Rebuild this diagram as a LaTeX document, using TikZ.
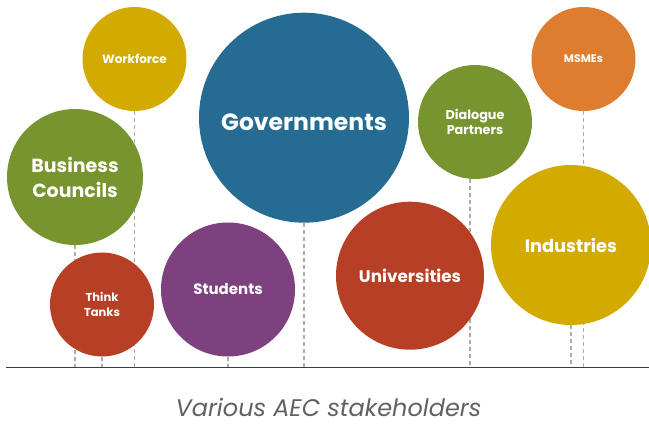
\documentclass[tikz,border=0pt]{standalone}
\usepackage{fontspec}
\setmainfont{Poppins}
\usetikzlibrary{backgrounds}
\definecolor{cyellow}{HTML}{D3AA00}
\definecolor{cgreen}{HTML}{78942E}
\definecolor{cred}{HTML}{B73F25}
\definecolor{cpurple}{HTML}{7E417F}
\definecolor{cblue}{HTML}{266C92}
\definecolor{corange}{HTML}{DE7C2F}
\definecolor{cnavy}{HTML}{2B3A7A}
\definecolor{dashgray}{HTML}{ABABAB}
\definecolor{captiongray}{HTML}{606166}
\begin{document}
\begin{tikzpicture}[x=1pt,y=-1pt,
  bubble/.style={circle, inner sep=0pt, text=white, align=center},
  guide/.style={draw=dashgray, line width=1.4pt, dash pattern=on 4pt off 3pt}]
\useasboundingbox (0,0) rectangle (649,425);
\node[bubble, fill=cyellow, minimum size=104pt, font=\bfseries\fontsize{12}{14}\selectfont] (workforce) at (134.5,59) {Workforce};
\node[bubble, fill=cgreen, minimum size=136pt, font=\bfseries\fontsize{19}{25}\selectfont] (business) at (75,177) {Business\\Councils};
\node[bubble, fill=cred, minimum size=104pt, font=\bfseries\fontsize{11.5}{15}\selectfont] (think) at (102,304.5) {Think\\Tanks};
\node[bubble, fill=cpurple, minimum size=134pt, font=\bfseries\fontsize{15}{18}\selectfont] (students) at (228,289.5) {Students};
\node[bubble, fill=cblue, minimum size=210pt, font=\bfseries\fontsize{23.5}{28}\selectfont] (gov) at (304,117.7) {\raisebox{-4.5pt}[\height][\depth]{Governments}};
\node[bubble, fill=cred, minimum size=148pt, font=\bfseries\fontsize{16.8}{20}\selectfont] (univ) at (410,275.7) {Universities};
\node[bubble, fill=cgreen, minimum size=114pt, font=\bfseries\fontsize{12.8}{15.5}\selectfont] (dialogue) at (475,122) {Dialogue\\Partners};
\node[bubble, fill=cyellow, minimum size=160pt, font=\bfseries\fontsize{17.8}{21}\selectfont] (industries) at (571,245) {Industries};
\node[bubble, fill=corange, minimum size=104pt, font=\bfseries\fontsize{11}{13}\selectfont] (msmes) at (583.5,59) {MSMEs};
\coordinate (bl) at (6,367.5);
\coordinate (br) at (649,367.5);
\begin{pgfonlayer}{background}
\foreach \n in {workforce,business,think,students,gov,industries,msmes}
  \draw[guide] (\n.south) -- (\n.south |- bl);
\draw[guide] ([xshift=-5pt]dialogue.south) -- ([xshift=-5pt]dialogue.south |- bl);
\end{pgfonlayer}
\draw[cnavy, line width=1.2pt] (bl) -- (br);
\node[text=captiongray, inner sep=0pt, anchor=base, font=\itshape\fontsize{24}{28}\selectfont] (caption) at (328.5,416) {Various AEC stakeholders};
\end{tikzpicture}
\end{document}
